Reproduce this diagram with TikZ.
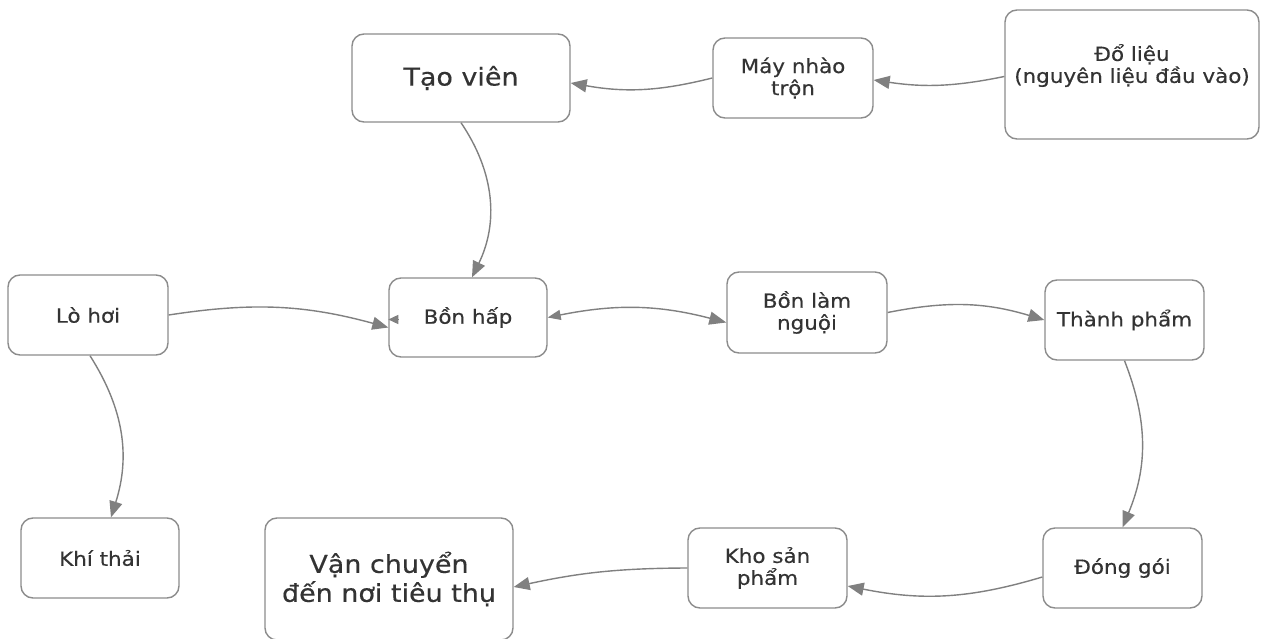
\documentclass[tikz,border=0pt]{standalone}
\usepackage{fontspec}
\setmainfont[FakeStretch=1.1,FakeBold=0.4]{DejaVu Sans}
\usepackage{tikz}
\usetikzlibrary{arrows.meta,positioning}
\definecolor{boxline}{HTML}{8C8C8C}
\definecolor{arrline}{HTML}{808080}
\definecolor{boxtext}{HTML}{333333}

\begin{document}
\begin{tikzpicture}[
  x=1pt, y=1pt,
  tbox/.style={draw=boxline, line width=1.4pt, rounded corners=12pt, fill=white, align=center, text=boxtext, inner sep=0pt, font={\fontsize{19.5}{22}\selectfont}},
  tbig/.style={tbox, font={\fontsize{24.5}{29}\selectfont}},
  arr/.style={-{Triangle[length=16pt,width=13pt]}, line width=1.4pt, draw=arrline},
  arrboth/.style={{Triangle[length=13pt,width=10pt]}-{Triangle[length=17pt,width=13pt]}, line width=1.4pt, draw=arrline}
]
\useasboundingbox (0,0) rectangle (1264,-639);
\fill[white] (0,0) rectangle (1264,-639);

% first row
\node[tbig, minimum width=218pt, minimum height=88pt] (tv) at (461,-78) {Tạo viên};
\node[tbox, minimum width=160pt, minimum height=80pt] (mn) at (793,-78) {Máy nhào\\trộn};
\node[tbox, minimum width=254pt, minimum height=129pt] (dl) at (1132,-74.5) {Đổ liệu\\(nguyên liệu đầu vào)\\\mbox{}};

% second row
\node[tbox, minimum width=160pt, minimum height=80pt] (lh) at (88,-315) {Lò hơi};
\node[tbox, minimum width=158pt, minimum height=79pt] (bh) at (468,-317.5) {Bồn hấp};
\node[tbox, minimum width=160pt, minimum height=81pt] (bn) at (807,-312.5) {Bồn làm\\nguội};
\node[tbox, minimum width=159pt, minimum height=80pt] (tp) at (1124.5,-320) {Thành phẩm};

% third row
\node[tbox, minimum width=158pt, minimum height=80pt] (kt) at (100,-558) {Khí thải};
\node[tbig, minimum width=248pt, minimum height=122pt] (vc) at (389,-579) {Vận chuyển\\đến nơi tiêu thụ};
\node[tbox, minimum width=159pt, minimum height=80pt] (kho) at (767.5,-568) {Kho sản\\phẩm};
\node[tbox, minimum width=159pt, minimum height=80pt] (dg) at (1122.5,-568) {Đóng gói};

\draw[arr] ([yshift=-2pt]dl.west) to[bend left=10] ([yshift=-2pt]mn.east);
\draw[arr] (mn.west) to[bend left=12] ([yshift=-5pt]tv.east);
\draw[arr] (tv.south) to[bend left=30] ([xshift=4pt]bh.north);
\draw[arr] (lh.east) to[bend left=12] ([yshift=-10pt]bh.west);
\draw[-{Triangle[length=10pt,width=9pt]}, line width=1.4pt, draw=arrline] ([xshift=10pt,yshift=-2pt]bh.west) -- ([yshift=-2pt]bh.west);
\draw[arrboth] (bh.east) to[bend left=13] ([yshift=-10pt]bn.west);
\draw[arr] (bn.east) to[bend left=14] (tp.west);
\draw[arr] (tp.south) to[bend left=22] (dg.north);
\draw[arr] ([yshift=-9pt]dg.west) to[bend left=14] ([yshift=-18pt]kho.east);
\draw[arr] (kho.west) to[bend right=6] ([yshift=-8pt]vc.east);
\draw[arr] ([xshift=2pt]lh.south) to[bend left=25] ([xshift=11pt]kt.north);
\end{tikzpicture}
\end{document}
